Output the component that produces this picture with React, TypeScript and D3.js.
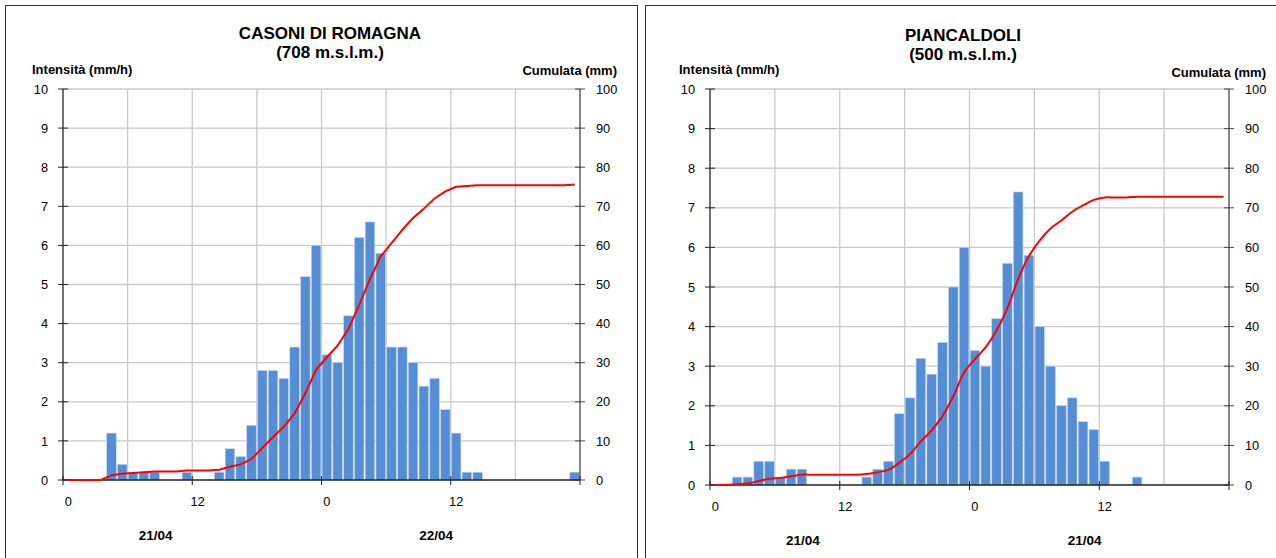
import React from "react";
import * as d3 from "d3";

// Hourly rainfall intensity (mm/h) over 48 hours, one value per hour slot
const casoniRain = [
  0, 0, 0, 0, 1.2, 0.4, 0.2, 0.2, 0.2, 0, 0, 0.2,
  0, 0, 0.2, 0.8, 0.6, 1.4, 2.8, 2.8, 2.6, 3.4, 5.2, 6.0,
  3.2, 3.0, 4.2, 6.2, 6.6, 5.8, 3.4, 3.4, 3.0, 2.4, 2.6, 1.8,
  1.2, 0.2, 0.2, 0, 0, 0, 0, 0, 0, 0, 0, 0.2,
];

const piancaldoliRain = [
  0, 0, 0.2, 0.2, 0.6, 0.6, 0.2, 0.4, 0.4, 0, 0, 0,
  0, 0, 0.2, 0.4, 0.6, 1.8, 2.2, 3.2, 2.8, 3.6, 5.0, 6.0,
  3.4, 3.0, 4.2, 5.6, 7.4, 5.8, 4.0, 3.0, 2.0, 2.2, 1.6, 1.4,
  0.6, 0, 0, 0.2, 0, 0, 0, 0, 0, 0, 0, 0,
];

const hourTickValues = [0, 12, 24, 36];
const hourTickLabels = ["0", "12", "0", "12"];
const intensityTicks = [0, 1, 2, 3, 4, 5, 6, 7, 8, 9, 10];
const cumulativeTicks = [0, 10, 20, 30, 40, 50, 60, 70, 80, 90, 100];
const casoniDays = ["21/04", "22/04"];
const piancaldoliDays = ["21/04", "21/04"];

const FONT = "'Liberation Sans', Arial, Helvetica, sans-serif";
const HOURS = 48;

type ChartProps = {
  panelX: number;
  panelW: number;
  title: string;
  subtitle: string;
  rain: number[];
  days: string[];
  x0: number;
  x1: number;
  yTop: number;
  yBottom: number;
  smooth: boolean;
  titleX: number;
  titleDy: number;
  rightTitleY: number;
};

function RainChart(p: ChartProps) {
  const x = d3.scaleLinear().domain([0, HOURS]).range([p.x0, p.x1]);
  const yI = d3.scaleLinear().domain([0, 10]).range([p.yBottom, p.yTop]);
  const yC = d3.scaleLinear().domain([0, 100]).range([p.yBottom, p.yTop]);
  const cum = Array.from(d3.cumsum(p.rain));

  const line = d3
    .line<number>()
    .x((_, i) => x(i + 0.5))
    .y((d) => yC(d))
    .curve(p.smooth ? d3.curveCatmullRom.alpha(0.5) : d3.curveLinear);

  const gridColor = "#c9c9c9";
  const axisColor = "#222";
  const vGrid = d3.range(6, HOURS, 6);
  const dayHours = [8.6, 34.65];

  return (
    <g fontFamily={FONT}>
      <rect
        x={p.panelX + 0.5}
        y={5.5}
        width={p.panelW}
        height={600}
        fill="#fff"
        stroke="#333"
        strokeWidth={1}
      />
      <text x={p.titleX} y={39 + p.titleDy} textAnchor="middle" fontSize={17} fontWeight="bold" fill="#000">
        {p.title}
      </text>
      <text x={p.titleX} y={58 + p.titleDy} textAnchor="middle" fontSize={17} fontWeight="bold" fill="#000">
        {p.subtitle}
      </text>
      <text x={p.x0 - 31} y={p.yTop - 15} fontSize={13} fontWeight="bold" fill="#000">
        Intensità (mm/h)
      </text>
      <text x={p.x1 + 37} y={p.rightTitleY} textAnchor="end" fontSize={13} fontWeight="bold" fill="#000">
        Cumulata (mm)
      </text>

      {/* gridlines */}
      {intensityTicks.slice(1).map((t) => (
        <line key={"h" + t} x1={p.x0} x2={p.x1} y1={yI(t)} y2={yI(t)} stroke={gridColor} strokeWidth={1.3} />
      ))}
      {vGrid.map((h) => (
        <line key={"v" + h} x1={x(h)} x2={x(h)} y1={p.yTop} y2={p.yBottom} stroke={gridColor} strokeWidth={1.3} />
      ))}

      {/* hourly bars */}
      {p.rain.map((v, i) =>
        v > 0 ? (
          <rect
            key={"b" + i}
            x={x(i) + 0.6}
            y={yI(v)}
            width={x(i + 1) - x(i) - 1.2}
            height={yI(0) - yI(v)}
            fill="#558ed5"
            stroke="#c5d8f0"
            strokeWidth={0.6}
          />
        ) : null
      )}

      {/* left axis */}
      <line x1={p.x0} x2={p.x0} y1={p.yTop} y2={p.yBottom} stroke={axisColor} strokeWidth={1.3} />
      {intensityTicks.map((t) => (
        <g key={"l" + t}>
          <line x1={p.x0 - 5} x2={p.x0 + 5} y1={yI(t)} y2={yI(t)} stroke={axisColor} strokeWidth={1} />
          <text x={p.x0 - 15} y={yI(t)} dy="0.36em" textAnchor="end" fontSize={12.8} fill="#000">
            {t}
          </text>
        </g>
      ))}

      {/* right axis */}
      <line x1={p.x1} x2={p.x1} y1={p.yTop} y2={p.yBottom} stroke="#444" strokeWidth={1.3} />
      {cumulativeTicks.map((t) => (
        <g key={"r" + t}>
          <line x1={p.x1 - 5} x2={p.x1 + 5} y1={yC(t)} y2={yC(t)} stroke="#444" strokeWidth={1} />
          <text x={p.x1 + 16} y={yC(t)} dy="0.36em" textAnchor="start" fontSize={12.8} fill="#000">
            {t}
          </text>
        </g>
      ))}

      {/* bottom axis */}
      <line x1={p.x0} x2={p.x1} y1={p.yBottom} y2={p.yBottom} stroke={axisColor} strokeWidth={1.5} />
      {[...hourTickValues, HOURS].map((h) => (
        <line key={"t" + h} x1={x(h)} x2={x(h)} y1={p.yBottom - 4} y2={p.yBottom + 5} stroke={axisColor} strokeWidth={1} />
      ))}
      {hourTickValues.map((h, i) => (
        <text key={"tl" + h} x={x(h + 0.5)} y={p.yBottom + 26} textAnchor="middle" fontSize={12.8} fill="#000">
          {hourTickLabels[i]}
        </text>
      ))}
      {p.days.map((d, i) => (
        <text key={"d" + i} x={x(dayHours[i])} y={p.yBottom + 60} textAnchor="middle" fontSize={13.5} fontWeight="bold" fill="#000">
          {d}
        </text>
      ))}

      {/* cumulative rainfall */}
      <path d={line(cum) || ""} fill="none" stroke="#ff0000" strokeWidth={2} strokeLinejoin="round" />
    </g>
  );
}

export default function App() {
  return (
    <svg
      width={1276}
      height={558}
      style={{ position: "absolute", left: 0, top: 0, background: "#fff" }}
    >
      <rect x={0} y={0} width={1276} height={558} fill="#fff" />
      <RainChart
        panelX={5}
        panelW={632}
        title="CASONI DI ROMAGNA"
        subtitle="(708 m.s.l.m.)"
        rain={casoniRain}
        days={casoniDays}
        x0={63}
        x1={580}
        yTop={89}
        yBottom={480}
        smooth={false}
        titleX={330}
        titleDy={0}
        rightTitleY={75}
      />
      <RainChart
        panelX={645}
        panelW={660}
        title="PIANCALDOLI"
        subtitle="(500 m.s.l.m.)"
        rain={piancaldoliRain}
        days={piancaldoliDays}
        x0={710}
        x1={1229}
        yTop={89}
        yBottom={485}
        smooth={true}
        titleX={963}
        titleDy={1.5}
        rightTitleY={76.5}
      />
    </svg>
  );
}
